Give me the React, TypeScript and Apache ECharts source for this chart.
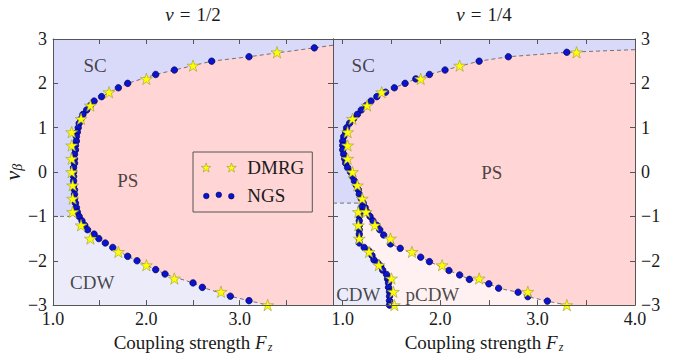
import React, { useEffect, useRef } from "react";
import * as echarts from "echarts";

type Pt = [number, number];

const FONT = "Liberation Serif";

// Axis ranges and ticks
const LEFT_F_RANGE: Pt = [1.0, 4.0];
const RIGHT_F_RANGE: Pt = [0.9, 4.0];
const NU_RANGE: Pt = [-3, 3];
const F_TICKS = [1.0, 1.5, 2.0, 2.5, 3.0, 3.5, 4.0];
const LEFT_F_LABELS = [1.0, 2.0, 3.0];
const RIGHT_F_LABELS = [1.0, 2.0, 3.0, 4.0];
const PANEL_TITLES = ["{i|ν}{eq|=}1/2", "{i|ν}{eq|=}1/4"];

// ---- ν = 1/2 panel ----
const LEFT_NGS: Pt[] = [
  [3.8, 2.8], [3.1, 2.6], [2.7, 2.5], [2.3, 2.3], [2.1, 2.2], [1.8, 2.0],
  [1.7, 1.9], [1.52, 1.7], [1.44, 1.6], [1.4, 1.5], [1.36, 1.4], [1.32, 1.3],
  [1.3, 1.2], [1.28, 1.1], [1.27, 1.0], [1.26, 0.9], [1.25, 0.8], [1.25, 0.7],
  [1.24, 0.6], [1.24, 0.5], [1.23, 0.4], [1.23, 0.3], [1.23, 0.2], [1.22, 0.1],
  [1.22, 0.0], [1.22, -0.1], [1.22, -0.2], [1.22, -0.3], [1.23, -0.4],
  [1.23, -0.5], [1.23, -0.6], [1.24, -0.7], [1.25, -0.8], [1.26, -0.9],
  [1.28, -1.0], [1.31, -1.1], [1.34, -1.2], [1.37, -1.3], [1.44, -1.4],
  [1.49, -1.5], [1.56, -1.6], [1.64, -1.7], [1.8, -1.9], [1.9, -2.0],
  [2.1, -2.2], [2.2, -2.3], [2.5, -2.5], [2.6, -2.6], [2.9, -2.8], [3.1, -2.9],
];
const LEFT_DMRG: Pt[] = [
  [3.4, 2.7], [2.5, 2.4], [2.0, 2.1], [1.6, 1.8], [1.4, 1.5], [1.3, 1.2],
  [1.2, 0.9], [1.2, 0.6], [1.2, 0.3], [1.2, 0.0], [1.21, -0.3], [1.21, -0.6],
  [1.21, -0.9], [1.3, -1.2], [1.4, -1.5], [1.7, -1.8], [2.0, -2.1], [2.3, -2.4],
  [2.8, -2.7], [3.3, -3.0],
];
const LEFT_EDGE_TOP: Pt = [4.0, 2.86];
const LEFT_EDGE_BOTTOM: Pt = [3.3, -3.0];
const LEFT_SC_CDW_NU = -1.0;
const LEFT_SC_CDW_END_F = 1.28;

// ---- ν = 1/4 panel ----
const RIGHT_NGS_UPPER: Pt[] = [
  [3.3, 2.7], [2.7, 2.6], [2.4, 2.5], [2.05, 2.3], [1.89, 2.2], [1.75, 2.1],
  [1.64, 2.0], [1.53, 1.9], [1.44, 1.8], [1.35, 1.7], [1.29, 1.6], [1.24, 1.5],
  [1.19, 1.4], [1.15, 1.3], [1.11, 1.2], [1.07, 1.1], [1.04, 1.0], [1.03, 0.9],
  [1.01, 0.8], [1.0, 0.7], [1.0, 0.6], [1.0, 0.5], [1.01, 0.4], [1.02, 0.3],
  [1.03, 0.2], [1.05, 0.1], [1.08, 0.0], [1.1, -0.1], [1.12, -0.2], [1.14, -0.3],
  [1.16, -0.4], [1.17, -0.5], [1.19, -0.6], [1.21, -0.7],
];
const RIGHT_NGS_INNER: Pt[] = [
  [1.19, -0.8], [1.18, -0.9], [1.17, -1.0], [1.17, -1.1], [1.17, -1.2],
  [1.17, -1.3], [1.17, -1.4], [1.17, -1.5], [1.17, -1.6], [1.22, -1.7],
  [1.27, -1.78], [1.3, -1.88], [1.32, -1.98], [1.36, -2.05], [1.39, -2.12],
  [1.41, -2.21], [1.45, -2.31], [1.46, -2.41], [1.47, -2.5], [1.47, -2.6],
  [1.48, -2.7], [1.48, -2.8], [1.48, -2.9], [1.48, -3.0],
];
const RIGHT_NGS_OUTER: Pt[] = [
  [1.23, -0.8], [1.25, -0.9], [1.28, -1.0], [1.31, -1.1], [1.35, -1.2],
  [1.38, -1.3], [1.42, -1.42], [1.49, -1.62], [1.59, -1.72], [1.8, -1.92],
  [1.89, -2.02], [2.09, -2.22], [2.2, -2.32], [2.3, -2.42], [2.5, -2.52],
  [2.6, -2.62], [2.8, -2.71], [2.9, -2.81], [3.1, -2.91],
];
const RIGHT_DMRG: Pt[] = [
  [3.4, 2.7], [2.2, 2.4], [1.8, 2.1], [1.4, 1.8], [1.25, 1.5], [1.1, 1.2],
  [1.05, 0.9], [1.05, 0.6], [1.05, 0.3], [1.1, 0.0], [1.15, -0.3], [1.2, -0.6],
  [1.16, -0.9], [1.16, -1.2], [1.17, -1.5], [1.27, -1.8], [1.37, -2.1],
  [1.5, -2.4], [1.52, -2.7], [1.53, -3.0],
  [1.24, -0.9], [1.33, -1.2], [1.49, -1.5], [1.71, -1.8], [2.02, -2.1],
  [2.4, -2.4], [2.9, -2.7], [3.3, -3.0],
];
const RIGHT_EDGE_TOP: Pt = [4.0, 2.76];
const RIGHT_OUTER_BOTTOM: Pt = [3.3, -3.0];
const RIGHT_SC_CDW_NU = -0.7;

// Phase names and where they are written
const LEFT_PHASES = [
  { name: "SC", value: [1.45, 2.4] },
  { name: "PS", value: [1.8, -0.2] },
  { name: "CDW", value: [1.42, -2.5] },
];
const RIGHT_PHASES = [
  { name: "SC", value: [1.21, 2.4] },
  { name: "PS", value: [2.53, 0.0] },
  { name: "CDW", value: [1.16, -2.75] },
  { name: "pCDW", value: [1.92, -2.75] },
];

const COLORS = {
  sc: "#d9d9fa",
  cdw: "#ebebfa",
  ps: "#ffd5d5",
  pcdw: "#fff1f1",
  axis: "#555555",
  text: "#1a1a1a",
  boundary: "#555555",
  ngs: "#0a14d0",
  ngsBorder: "#00004a",
  dmrg: "#ffff00",
  dmrgBorder: "#9a9a3a",
};

const STAR =
  "M50,0L61.2,34.5L97.6,34.5L68.2,55.9L79.4,90.5L50,69.1L20.6,90.5L31.8,55.9L2.4,34.5L38.8,34.5Z";
// two stars for the legend key
const STAR_PAIR =
  "path://M50,0L61.2,34.5L97.6,34.5L68.2,55.9L79.4,90.5L50,69.1L20.6,90.5L31.8,55.9L2.4,34.5L38.8,34.5Z" +
  "M300,0L311.2,34.5L347.6,34.5L318.2,55.9L329.4,90.5L300,69.1L270.6,90.5L281.8,55.9L252.4,34.5L288.8,34.5Z";
// three dots for the legend key, padded to the same box as the stars
const DOT_TRIPLE =
  "path://M0,50L0.01,50M350,50L349.99,50" +
  "M22,56A28,28 0 1,0 78,56A28,28 0 1,0 22,56Z" +
  "M147,44A28,28 0 1,0 203,44A28,28 0 1,0 147,44Z" +
  "M272,58A28,28 0 1,0 328,58A28,28 0 1,0 272,58Z";

function rect(f: Pt, nu: Pt): Pt[] {
  return [[f[0], nu[0]], [f[1], nu[0]], [f[1], nu[1]], [f[0], nu[1]]];
}

function polygonSeries(xi: number, yi: number, pts: Pt[], fill: string) {
  return {
    type: "custom",
    xAxisIndex: xi,
    yAxisIndex: yi,
    silent: true,
    z: 1,
    data: [pts[0]],
    renderItem: (_p: any, api: any) => ({
      type: "polygon",
      shape: { points: pts.map((p) => api.coord(p)) },
      style: { fill },
    }),
  };
}

function lineSeries(xi: number, yi: number, pts: Pt[]) {
  return {
    type: "line",
    xAxisIndex: xi,
    yAxisIndex: yi,
    data: pts,
    showSymbol: false,
    silent: true,
    z: 2,
    lineStyle: { color: COLORS.boundary, width: 0.8, type: [4, 3] },
  };
}

function ngsSeries(xi: number, yi: number, pts: Pt[]) {
  return {
    name: "NGS",
    type: "scatter",
    xAxisIndex: xi,
    yAxisIndex: yi,
    data: pts,
    symbol: "circle",
    symbolSize: 6.5,
    z: 3,
    itemStyle: { color: COLORS.ngs, borderColor: COLORS.ngsBorder, borderWidth: 0.7, opacity: 1 },
  };
}

function dmrgSeries(xi: number, yi: number, pts: Pt[]) {
  return {
    name: "DMRG",
    type: "scatter",
    xAxisIndex: xi,
    yAxisIndex: yi,
    data: pts,
    symbol: "path://" + STAR,
    symbolKeepAspect: true,
    symbolSize: 12,
    z: 4,
    itemStyle: { color: COLORS.dmrg, borderColor: COLORS.dmrgBorder, borderWidth: 0.6, opacity: 1 },
  };
}

function phaseLabels(xi: number, yi: number, items: { name: string; value: number[] }[]) {
  return {
    type: "scatter",
    xAxisIndex: xi,
    yAxisIndex: yi,
    data: items,
    symbolSize: 0,
    silent: true,
    z: 5,
    label: {
      show: true,
      position: "inside",
      formatter: (p: any) => p.name,
      fontFamily: FONT,
      fontSize: 19,
      color: COLORS.text,
    },
  };
}

const nuLabel = (v: number) => (v < 0 ? "\u2212" + Math.abs(v) : String(v));

function xAxisBottom(gridIndex: number, range: Pt, labels: number[]) {
  return {
    type: "value",
    gridIndex,
    position: "bottom",
    min: range[0],
    max: range[1],
    z: 10,
    name: "Coupling strength {f|F}{z|z}",
    nameLocation: "middle",
    nameGap: 20,
    nameTextStyle: {
      fontFamily: FONT,
      fontSize: 19,
      color: COLORS.text,
      rich: {
        f: { fontFamily: FONT, fontSize: 19, fontStyle: "italic", color: COLORS.text },
        z: { fontFamily: FONT, fontSize: 12, fontStyle: "italic", color: COLORS.text, padding: [9, 0, 0, 1] },
      },
    },
    axisLine: { show: true, onZero: false, lineStyle: { color: COLORS.axis, width: 1 } },
    axisTick: { show: true, inside: true, length: 5, customValues: F_TICKS, lineStyle: { color: COLORS.axis } },
    axisLabel: {
      show: true,
      customValues: labels,
      margin: 5,
      formatter: (v: number) => v.toFixed(1),
      fontFamily: FONT,
      fontSize: 18,
      color: COLORS.text,
    },
    splitLine: { show: false },
  };
}

function xAxisTop(gridIndex: number, range: Pt, title: string) {
  return {
    type: "value",
    gridIndex,
    position: "top",
    min: range[0],
    max: range[1],
    z: 10,
    name: title,
    nameLocation: "middle",
    nameGap: 15,
    nameTextStyle: {
      fontFamily: FONT,
      fontSize: 19,
      color: COLORS.text,
      rich: {
        i: { fontFamily: FONT, fontSize: 19, fontStyle: "italic", color: COLORS.text },
        eq: { fontFamily: FONT, fontSize: 19, color: COLORS.text, padding: [0, 6, 0, 6] },
      },
    },
    axisLine: { show: true, onZero: false, lineStyle: { color: COLORS.axis, width: 1 } },
    axisTick: { show: true, inside: true, length: 5, customValues: F_TICKS, lineStyle: { color: COLORS.axis } },
    axisLabel: { show: false },
    splitLine: { show: false },
  };
}

function yAxis(gridIndex: number, position: "left" | "right", labelled: boolean, named: boolean) {
  return {
    type: "value",
    gridIndex,
    position,
    min: NU_RANGE[0],
    max: NU_RANGE[1],
    interval: 1,
    z: 10,
    name: named ? "{n|ν}{b|β}" : "",
    nameLocation: "middle",
    nameGap: 20,
    nameRotate: 90,
    nameTextStyle: {
      fontFamily: FONT,
      rich: {
        n: { fontFamily: FONT, fontSize: 22, fontStyle: "italic", color: COLORS.text },
        b: { fontFamily: FONT, fontSize: 14, fontStyle: "italic", color: COLORS.text, padding: [10, 0, 0, 0] },
      },
    },
    axisLine: { show: true, onZero: false, lineStyle: { color: COLORS.axis, width: 1 } },
    axisTick: { show: true, inside: true, length: 5, lineStyle: { color: COLORS.axis } },
    axisLabel: {
      show: labelled,
      margin: 6,
      formatter: nuLabel,
      fontFamily: FONT,
      fontSize: 18,
      color: COLORS.text,
    },
    splitLine: { show: false },
  };
}

function buildOption() {
  const leftPS: Pt[] = [LEFT_EDGE_TOP, ...LEFT_NGS, LEFT_EDGE_BOTTOM, [LEFT_F_RANGE[1], NU_RANGE[0]]];
  const leftBoundary: Pt[] = [LEFT_EDGE_TOP, ...LEFT_NGS, LEFT_EDGE_BOTTOM];
  const leftSep: Pt[] = [[LEFT_F_RANGE[0], LEFT_SC_CDW_NU], [LEFT_SC_CDW_END_F, LEFT_SC_CDW_NU]];

  const junction = RIGHT_NGS_UPPER[RIGHT_NGS_UPPER.length - 1];
  const rightPS: Pt[] = [
    RIGHT_EDGE_TOP, ...RIGHT_NGS_UPPER, ...RIGHT_NGS_OUTER, RIGHT_OUTER_BOTTOM,
    [RIGHT_F_RANGE[1], NU_RANGE[0]],
  ];
  const rightPCDW: Pt[] = [
    junction, ...RIGHT_NGS_INNER, RIGHT_OUTER_BOTTOM, ...[...RIGHT_NGS_OUTER].reverse(),
  ];
  const rightOuterBoundary: Pt[] = [RIGHT_EDGE_TOP, ...RIGHT_NGS_UPPER, ...RIGHT_NGS_OUTER, RIGHT_OUTER_BOTTOM];
  const rightInnerBoundary: Pt[] = [junction, ...RIGHT_NGS_INNER];
  const rightSep: Pt[] = [[RIGHT_F_RANGE[0], RIGHT_SC_CDW_NU], junction];
  const rightNGS = [...RIGHT_NGS_UPPER, ...RIGHT_NGS_INNER, ...RIGHT_NGS_OUTER];

  return {
    animation: false,
    backgroundColor: "#ffffff",
    textStyle: { fontFamily: FONT, color: COLORS.text },
    grid: [
      { left: 49, top: 35, width: 284, height: 279, containLabel: false },
      { left: 333, top: 35, width: 302, height: 279, containLabel: false },
    ],
    xAxis: [
      xAxisBottom(0, LEFT_F_RANGE, LEFT_F_LABELS),
      xAxisTop(0, LEFT_F_RANGE, PANEL_TITLES[0]),
      xAxisBottom(1, RIGHT_F_RANGE, RIGHT_F_LABELS),
      xAxisTop(1, RIGHT_F_RANGE, PANEL_TITLES[1]),
    ],
    yAxis: [
      yAxis(0, "left", true, true),
      yAxis(0, "right", false, false),
      yAxis(1, "left", false, false),
      yAxis(1, "right", true, false),
    ],
    legend: {
      data: [
        { name: "DMRG", icon: STAR_PAIR },
        { name: "NGS", icon: DOT_TRIPLE },
      ],
      orient: "vertical",
      left: 193,
      top: 152,
      itemWidth: 35,
      itemHeight: 10,
      itemGap: 9,
      padding: [6, 8, 7, 8],
      borderColor: "#555555",
      borderWidth: 1,
      backgroundColor: "transparent",
      selectedMode: false,
      itemStyle: { borderWidth: 0.6 },
      textStyle: { fontFamily: FONT, fontSize: 19, color: COLORS.text, padding: [0, 0, 0, 6] },
    },
    series: [
      polygonSeries(0, 0, rect(LEFT_F_RANGE, [LEFT_SC_CDW_NU, NU_RANGE[1]]), COLORS.sc),
      polygonSeries(0, 0, rect(LEFT_F_RANGE, [NU_RANGE[0], LEFT_SC_CDW_NU]), COLORS.cdw),
      polygonSeries(0, 0, leftPS, COLORS.ps),
      lineSeries(0, 0, leftBoundary),
      lineSeries(0, 0, leftSep),
      ngsSeries(0, 0, LEFT_NGS),
      dmrgSeries(0, 0, LEFT_DMRG),
      phaseLabels(0, 0, LEFT_PHASES),

      polygonSeries(2, 3, rect(RIGHT_F_RANGE, [RIGHT_SC_CDW_NU, NU_RANGE[1]]), COLORS.sc),
      polygonSeries(2, 3, rect(RIGHT_F_RANGE, [NU_RANGE[0], RIGHT_SC_CDW_NU]), COLORS.cdw),
      polygonSeries(2, 3, rightPS, COLORS.ps),
      polygonSeries(2, 3, rightPCDW, COLORS.pcdw),
      lineSeries(2, 3, rightOuterBoundary),
      lineSeries(2, 3, rightInnerBoundary),
      lineSeries(2, 3, rightSep),
      ngsSeries(2, 3, rightNGS),
      dmrgSeries(2, 3, RIGHT_DMRG),
      phaseLabels(2, 3, RIGHT_PHASES),
    ],
  };
}

export default function App() {
  const ref = useRef<HTMLDivElement | null>(null);
  useEffect(() => {
    if (!ref.current) return;
    const chart = echarts.init(ref.current, undefined, { renderer: "svg" });
    chart.setOption(buildOption() as any);
    return () => chart.dispose();
  }, []);
  return (
    <div
      ref={ref}
      style={{ position: "absolute", left: 0, top: 0, width: 678, height: 358 }}
    />
  );
}
